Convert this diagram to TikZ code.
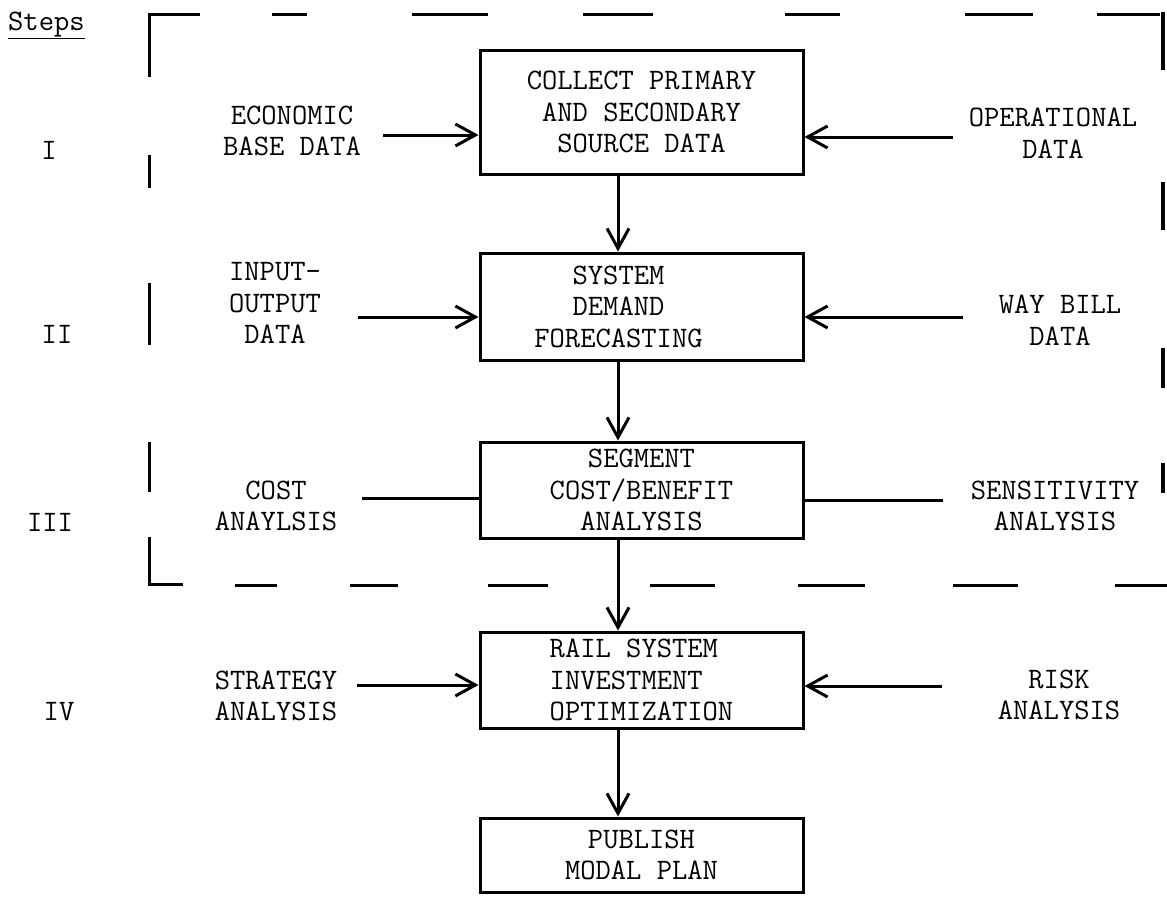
\documentclass[tikz,border=0pt]{standalone}
\usetikzlibrary{arrows.meta}
\newcommand\tw{\fontsize{29.7}{31.5}\selectfont\ttfamily}
\newcommand\padr{\rule{46pt}{0pt}}
\tikzset{
  box/.style={draw, line width=3pt, minimum width=323pt, inner sep=0pt, align=center, font=\tw},
  lbl/.style={inner sep=0pt, align=center, font=\tw},
  conn/.style={line width=3pt},
  arr/.style={conn, -{Straight Barb[length=20pt,width=22pt,line width=3pt]}},
  frm/.style={line width=3pt},
  frmr/.style={line width=4.5pt},
}
\begin{document}
\begin{tikzpicture}[x=1pt,y=-1pt]
\useasboundingbox (0,0) rectangle (1167,897);

% heading and step numerals
\node[lbl, anchor=base west] (steps) at (8,30) {\underline{Steps}};
\node[lbl] (s1) at (49,150) {I};
\node[lbl] (s2) at (57,334) {II};
\node[lbl] (s3) at (50,522) {III};
\node[lbl] (s4) at (59,712) {IV};

% dashed frame
\draw[frm] (149,77) -- (149,14) -- (200,14);
\foreach \a/\b in {272/307, 412/488, 583/653, 785/840, 965/1033}
  \draw[frm] (\a,14) -- (\b,14);
\draw[frm] (1097,14) -- (1160,14);
\draw[frmr] (1163,12) -- (1163,70);
\foreach \a/\b in {155/188, 283/345, 442/492}
  \draw[frm] (149,\a) -- (149,\b);
\draw[frm] (149,537) -- (149,584) -- (183,584);
\foreach \a/\b in {235/277, 350/398, 488/548, 650/715, 798/865, 953/1018, 1115/1167}
  \draw[frm] (\a,585) -- (\b,585);
\foreach \a/\b in {182/230, 348/388, 463/493}
  \draw[frmr] (1163,\a) -- (1163,\b);

% main boxes
\node[box, minimum height=124pt] (b1) at (641.5,112) {COLLECT PRIMARY\\AND SECONDARY\\SOURCE DATA};
\node[box, minimum height=107pt] (b2) at (641.5,306.5) {SYSTEM\padr\\DEMAND\padr\\FORECASTING\padr};
\node[box, minimum height=96pt] (b3) at (641.5,490) {SEGMENT\\COST/BENEFIT\\ANALYSIS};
\node[box, minimum height=96pt, align=left] (b4) at (641.5,680) {RAIL SYSTEM\\INVESTMENT\\OPTIMIZATION};
\node[box, minimum height=74pt] (b5) at (641.5,855) {PUBLISH\\MODAL PLAN};

% side labels
\node[lbl] (l1) at (292,131) {ECONOMIC\\BASE DATA};
\node[lbl] (l2) at (275,303) {INPUT-\\OUTPUT\\DATA};
\node[lbl] (l3) at (276,506) {COST\\ANAYLSIS};
\node[lbl] (l4) at (276,696) {STRATEGY\\ANALYSIS};
\node[lbl] (r1) at (1053,133) {OPERATIONAL\\DATA};
\node[lbl] (r2) at (1060,320) {WAY BILL\\DATA};
\node[lbl] (r3) at (1055,506) {SENSITIVITY\\ANALYSIS};
\node[lbl] (r4) at (1059,695) {RISK\\ANALYSIS};

% side connectors
\coordinate (a1) at (383,135);
\coordinate (a2) at (953,137);
\coordinate (a3) at (358,317);
\coordinate (a4) at (963,317);
\coordinate (a5) at (362,498);
\coordinate (a6) at (943,500);
\coordinate (a7) at (357,685);
\coordinate (a8) at (942,686);
\draw[arr] (a1) -- (a1 -| b1.west);
\draw[arr] (a2) -- (a2 -| b1.east);
\draw[arr] (a3) -- (a3 -| b2.west);
\draw[arr] (a4) -- (a4 -| b2.east);
\draw[conn] (a5) -- (a5 -| b3.west);
\draw[conn] (a6) -- (a6 -| b3.east);
\draw[arr] (a7) -- (a7 -| b4.west);
\draw[arr] (a8) -- (a8 -| b4.east);

% vertical flow
\coordinate (vx) at (618,0);
\draw[arr] (b1.south -| vx) -- (b2.north -| vx);
\draw[arr] (b2.south -| vx) -- (b3.north -| vx);
\draw[arr] (b3.south -| vx) -- (b4.north -| vx);
\draw[arr] (b4.south -| vx) -- (b5.north -| vx);
\end{tikzpicture}
\end{document}
